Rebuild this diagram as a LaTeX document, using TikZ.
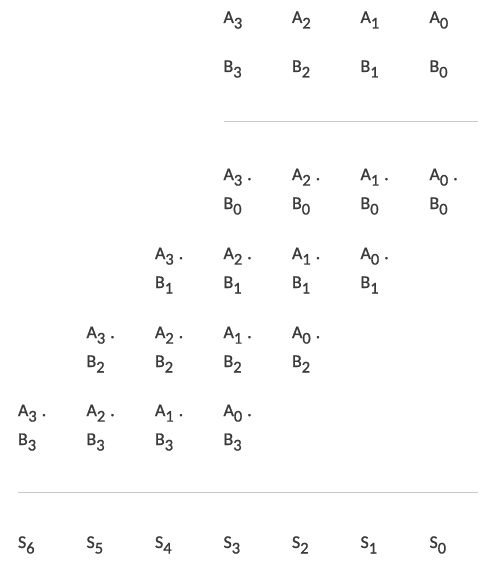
\documentclass[tikz,border=0pt]{standalone}
\usepackage{fontspec}
\setmainfont{Carlito}
\newfontfamily\bitfont{Carlito}[FakeBold=1.0]
\usetikzlibrary{positioning}
\definecolor{inkgrey}{HTML}{3A3A3A}
\definecolor{rulegrey}{HTML}{C8C8C8}
\newcommand{\bitsub}[1]{\raisebox{-5.5bp}{\fontsize{16.5}{16.5}\selectfont #1}}
\newcommand{\bitdot}{\hspace{5bp}.}

\begin{document}
\begin{tikzpicture}[
    x=1bp, y=-1bp,
    bit/.style={
        anchor=base west,
        inner sep=0pt,
        outer sep=0pt,
        text=inkgrey,
        font=\bitfont\fontsize{18}{29}\selectfont
    },
    pp/.style={
        bit,
        align=left
    },
    rule/.style={draw=rulegrey, line width=1bp}
]
\useasboundingbox (0,0) rectangle (493,569);

% operands
\node[bit] (a3) at (223.5,23) {A\bitsub{3}};
\node[bit] (a2) at (292,23) {A\bitsub{2}};
\node[bit] (a1) at (360.5,23) {A\bitsub{1}};
\node[bit] (a0) at (429.5,23) {A\bitsub{0}};

\node[bit] (b3) at (223.5,72) {B\bitsub{3}};
\node[bit] (b2) at (292,72) {B\bitsub{2}};
\node[bit] (b1) at (360.5,72) {B\bitsub{1}};
\node[bit] (b0) at (429.5,72) {B\bitsub{0}};

\draw[rule] (224,121.5) -- (478,121.5);

% partial products, row B0 (anchored on the B line)
\node[pp] (p30) at (223.5,209) {A\bitsub{3}\bitdot\\B\bitsub{0}};
\node[pp] (p20) at (292,209) {A\bitsub{2}\bitdot\\B\bitsub{0}};
\node[pp] (p10) at (360.5,209) {A\bitsub{1}\bitdot\\B\bitsub{0}};
\node[pp] (p00) at (429.5,209) {A\bitsub{0}\bitdot\\B\bitsub{0}};

% partial products, row B1
\node[pp] (p31) at (155,288) {A\bitsub{3}\bitdot\\B\bitsub{1}};
\node[pp] (p21) at (223.5,288) {A\bitsub{2}\bitdot\\B\bitsub{1}};
\node[pp] (p11) at (292,288) {A\bitsub{1}\bitdot\\B\bitsub{1}};
\node[pp] (p01) at (360.5,288) {A\bitsub{0}\bitdot\\B\bitsub{1}};

% partial products, row B2
\node[pp] (p32) at (86.5,367) {A\bitsub{3}\bitdot\\B\bitsub{2}};
\node[pp] (p22) at (155,367) {A\bitsub{2}\bitdot\\B\bitsub{2}};
\node[pp] (p12) at (223.5,367) {A\bitsub{1}\bitdot\\B\bitsub{2}};
\node[pp] (p02) at (292,367) {A\bitsub{0}\bitdot\\B\bitsub{2}};

% partial products, row B3
\node[pp] (p33) at (18,445) {A\bitsub{3}\bitdot\\B\bitsub{3}};
\node[pp] (p23) at (86.5,445) {A\bitsub{2}\bitdot\\B\bitsub{3}};
\node[pp] (p13) at (155,445) {A\bitsub{1}\bitdot\\B\bitsub{3}};
\node[pp] (p03) at (223.5,445) {A\bitsub{0}\bitdot\\B\bitsub{3}};

\draw[rule] (18,492) -- (478,492);

% sum bits
\node[bit] (s6) at (18,548) {S\bitsub{6}};
\node[bit] (s5) at (86.5,548) {S\bitsub{5}};
\node[bit] (s4) at (155,548) {S\bitsub{4}};
\node[bit] (s3) at (223.5,548) {S\bitsub{3}};
\node[bit] (s2) at (292,548) {S\bitsub{2}};
\node[bit] (s1) at (360.5,548) {S\bitsub{1}};
\node[bit] (s0) at (429.5,548) {S\bitsub{0}};

\end{tikzpicture}
\end{document}
